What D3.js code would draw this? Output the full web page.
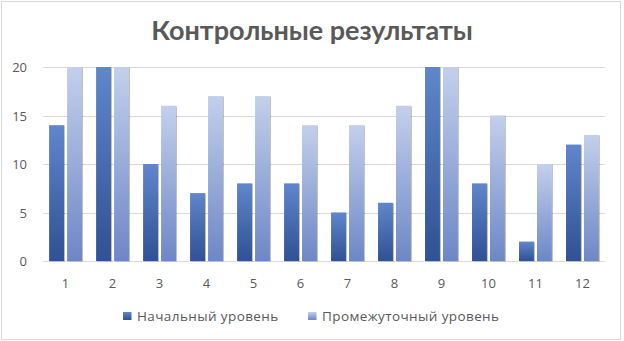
<!DOCTYPE html>
<html><head><meta charset="utf-8">
<script src="https://cdn.jsdelivr.net/npm/d3@7/dist/d3.min.js"></script>
<style>body{margin:0;background:#fff}svg{display:block}</style>
</head><body><div id="c"></div>
<script>
const categories = ["1","2","3","4","5","6","7","8","9","10","11","12"];
const initialLevel = [14,20,10,7,8,8,5,6,20,8,2,12];
const intermediateLevel = [20,20,16,17,17,14,14,16,20,15,10,13];
const seriesNames = ["Начальный уровень","Промежуточный уровень"];
const yTicks = [0,5,10,15,20];
const title = "Контрольные результаты";

(function(){
const W=624,H=341;
const svg=d3.select("#c").append("svg").attr("width",W).attr("height",H);
const defs=svg.append("defs");
const grads=[["#6086cb","#2f5193"],["#c3d0ec","#6d87c6"]];
grads.forEach((g,i)=>{
  const lg=defs.append("linearGradient").attr("id","g"+i).attr("x1",0).attr("y1",0).attr("x2",0).attr("y2",1);
  lg.append("stop").attr("offset","0%").attr("stop-color",g[0]);
  lg.append("stop").attr("offset","100%").attr("stop-color",g[1]);
});
const f=defs.append("filter").attr("id","sh").attr("x","-20%").attr("y","-5%").attr("width","150%").attr("height","115%");
f.append("feDropShadow").attr("dx",1).attr("dy",0.5).attr("stdDeviation",0.7).attr("flood-color","#000").attr("flood-opacity",0.25);

svg.append("rect").attr("x",1.5).attr("y",1.5).attr("width",619).attr("height",H-3).attr("fill","#fff").attr("stroke","#d9d9d9");

svg.append("text").attr("x",312).attr("y",40).attr("text-anchor","middle")
  .attr("font-family","Lato, 'Open Sans', sans-serif").attr("font-weight","bold").attr("font-size",27).attr("fill","#595959").text(title);

const pl=43,pr=605,pt=67,pb=261;
const x=d3.scaleBand().domain(categories).range([pl,pr]).paddingInner(0.3).paddingOuter(0.13);
const y=d3.scaleLinear().domain([0,20]).range([pb,pt]);
const x1=d3.scaleBand().domain([0,1]).range([0,x.bandwidth()]).paddingInner(0.17);

const g=svg.append("g");
g.selectAll("line.grid").data(yTicks).join("line")
  .attr("x1",pl).attr("x2",pr).attr("y1",d=>Math.round(y(d))+0.5).attr("y2",d=>Math.round(y(d))+0.5)
  .attr("stroke","#d9d9d9").attr("stroke-width",1);

const yAxis=d3.axisLeft(y).tickValues(yTicks).tickSize(0).tickPadding(0);
const ya=svg.append("g").attr("transform",`translate(${pl-16},0)`).call(yAxis);
ya.select(".domain").remove();
ya.selectAll("text").attr("font-family","'Open Sans', sans-serif").attr("font-size",13).attr("fill","#595959").attr("dy","0.35em");

const data=[initialLevel,intermediateLevel];
data.forEach((vals,si)=>{
  g.selectAll("rect.s"+si).data(vals).join("rect").attr("class","s"+si)
    .attr("x",(d,i)=>x(categories[i])+x1(si)).attr("width",x1.bandwidth())
    .attr("y",d=>y(d)).attr("height",d=>y(0)-y(d)).attr("fill",`url(#g${si})`).attr("filter","url(#sh)");
});

const xAxis=d3.axisBottom(x).tickSize(0).tickPadding(0);
const xa=svg.append("g").attr("transform",`translate(0,${pb+22})`).call(xAxis);
xa.select(".domain").remove();
xa.selectAll("text").attr("font-family","'Open Sans', sans-serif").attr("font-size",13).attr("fill","#595959").attr("dy","0.35em");

const legendX=[123,308];
seriesNames.forEach((n,i)=>{
  const lg=svg.append("g").attr("transform",`translate(${legendX[i]},${316})`);
  lg.append("rect").attr("x",0).attr("y",-4).attr("width",8.5).attr("height",8).attr("fill",`url(#g${i})`);
  lg.append("text").attr("x",14).attr("y",0).attr("dy","0.35em").attr("font-family","'Open Sans', sans-serif").attr("font-size",13.5).attr("letter-spacing",0.4).attr("fill","#595959").text(n);
});
})();
</script></body></html>
